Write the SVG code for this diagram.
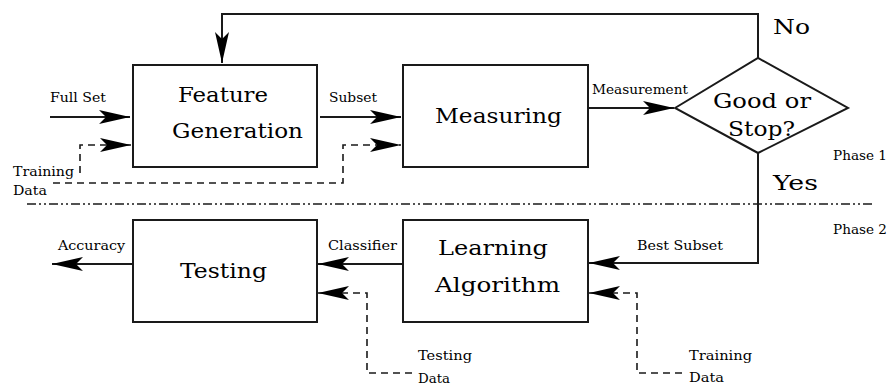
<svg xmlns="http://www.w3.org/2000/svg" width="888" height="390" viewBox="0 0 888 390">
<defs>
<marker id="ah" markerUnits="userSpaceOnUse" orient="auto" refX="0" refY="0" markerWidth="40" markerHeight="20" overflow="visible">
<path d="M0,0 L-31,-7 L-24,0 L-31,7 Z" fill="#000"/>
</marker>
<style>
.box{fill:#fff;stroke:#1a1a1a;stroke-width:2}
.ln{fill:none;stroke:#1a1a1a;stroke-width:2}
.ds{fill:none;stroke:#1a1a1a;stroke-width:1.6;stroke-dasharray:7 5}
.dd{fill:none;stroke:#1a1a1a;stroke-width:1.6;stroke-dasharray:9 3 2 3 2 3}
.big{font-size:20px;font-family:DejaVu Serif,serif;fill:#000}
.sm{font-size:12px;font-family:DejaVu Serif,serif;fill:#000}
.lab{font-size:20px;font-family:DejaVu Serif,serif;fill:#000}
</style>
</defs>
<rect width="888" height="390" fill="#fff"/>
<g id="feature-generation">
<rect class="box" x="133" y="65" width="184" height="102"/>
<text class="big" x="178" y="102" textLength="90" lengthAdjust="spacingAndGlyphs">Feature</text>
<text class="big" x="172" y="138" textLength="131" lengthAdjust="spacingAndGlyphs">Generation</text>
</g>
<g id="measuring">
<rect class="box" x="403" y="65" width="185" height="102"/>
<text class="big" x="435" y="123" textLength="127" lengthAdjust="spacingAndGlyphs">Measuring</text>
</g>
<g id="good-or-stop">
<polygon class="box" points="675,108 758,58 848,108 758,153"/>
<text class="big" x="713" y="108" textLength="98" lengthAdjust="spacingAndGlyphs">Good or</text>
<text class="big" x="728" y="136" textLength="67" lengthAdjust="spacingAndGlyphs">Stop?</text>
</g>
<g id="testing">
<rect class="box" x="133" y="220" width="184" height="102"/>
<text class="big" x="180" y="278" textLength="87" lengthAdjust="spacingAndGlyphs">Testing</text>
</g>
<g id="learning-algorithm">
<rect class="box" x="403" y="220" width="185" height="102"/>
<text class="big" x="438" y="255" textLength="110" lengthAdjust="spacingAndGlyphs">Learning</text>
<text class="big" x="435" y="292" textLength="125" lengthAdjust="spacingAndGlyphs">Algorithm</text>
</g>

<g id="connectors">
<line class="ln" x1="50" y1="117" x2="130" y2="117" marker-end="url(#ah)"/>
<line class="ln" x1="320" y1="117" x2="401" y2="117" marker-end="url(#ah)"/>
<line class="ln" x1="588" y1="108" x2="674" y2="108" marker-end="url(#ah)"/>
<polyline class="ln" points="758,58 758,14 222,14 222,63" marker-end="url(#ah)"/>
<polyline class="ln" points="758,153 758,263 589,263" marker-end="url(#ah)"/>
<line class="ln" x1="403" y1="264" x2="318" y2="264" marker-end="url(#ah)"/>
<line class="ln" x1="133" y1="264" x2="52" y2="264" marker-end="url(#ah)"/>
<path class="ds" d="M80,173 V145 H131" marker-end="url(#ah)"/>
<path class="ds" d="M53,183 H343 V145 H401" marker-end="url(#ah)"/>
<path class="ds" d="M412,373 H367 V293 H318" marker-end="url(#ah)"/>
<path class="ds" d="M682,373 H637 V293 H589" marker-end="url(#ah)"/>
<path class="dd" d="M27,204 H875"/>
</g>

<g id="labels">
<text class="sm" x="50" y="102" textLength="56" lengthAdjust="spacingAndGlyphs">Full Set</text>
<text class="sm" x="329" y="102" textLength="48" lengthAdjust="spacingAndGlyphs">Subset</text>
<text class="sm" x="592" y="94" textLength="96" lengthAdjust="spacingAndGlyphs">Measurement</text>
<text class="sm" x="13" y="176" textLength="61" lengthAdjust="spacingAndGlyphs">Training</text>
<text class="sm" x="13" y="195" textLength="34" lengthAdjust="spacingAndGlyphs">Data</text>
<text class="lab" x="773" y="34" textLength="37" lengthAdjust="spacingAndGlyphs">No</text>
<text class="lab" x="773" y="190" textLength="45" lengthAdjust="spacingAndGlyphs">Yes</text>
<text class="sm" x="833" y="160" textLength="54" lengthAdjust="spacingAndGlyphs">Phase 1</text>
<text class="sm" x="833" y="234" textLength="54" lengthAdjust="spacingAndGlyphs">Phase 2</text>
<text class="sm" x="58" y="250" textLength="67" lengthAdjust="spacingAndGlyphs">Accuracy</text>
<text class="sm" x="328" y="250" textLength="69" lengthAdjust="spacingAndGlyphs">Classifier</text>
<text class="sm" x="637" y="250" textLength="86" lengthAdjust="spacingAndGlyphs">Best Subset</text>
<text class="sm" x="418" y="360" textLength="54" lengthAdjust="spacingAndGlyphs">Testing</text>
<text class="sm" x="418" y="383" textLength="32" lengthAdjust="spacingAndGlyphs">Data</text>
<text class="sm" x="689" y="360" textLength="63" lengthAdjust="spacingAndGlyphs">Training</text>
<text class="sm" x="689" y="382" textLength="35" lengthAdjust="spacingAndGlyphs">Data</text>
</g>
</svg>
